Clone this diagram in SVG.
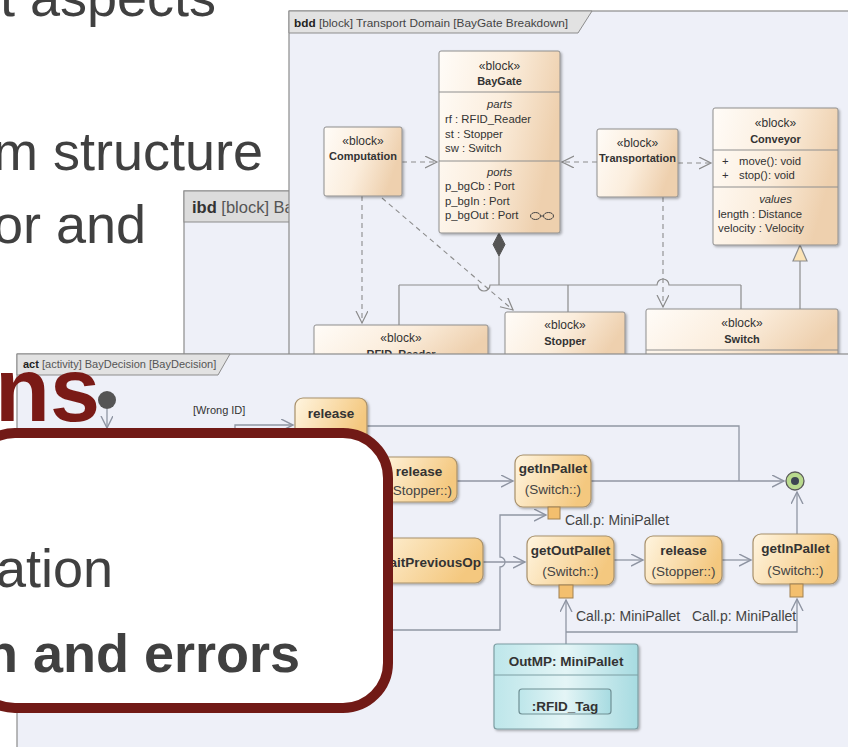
<svg xmlns="http://www.w3.org/2000/svg" width="848" height="747" viewBox="0 0 848 747">
<defs>
<linearGradient id="gBlock" x1="0" y1="0" x2="1" y2="0.3">
<stop offset="0" stop-color="#fffcf8"/>
<stop offset="0.55" stop-color="#fbeddc"/>
<stop offset="1" stop-color="#eed0ae"/>
</linearGradient>
<linearGradient id="gAct" x1="0" y1="0" x2="1" y2="0.3">
<stop offset="0" stop-color="#fff5e0"/>
<stop offset="1" stop-color="#f4c87f"/>
</linearGradient>
<linearGradient id="gObj" x1="0" y1="0" x2="1" y2="0">
<stop offset="0" stop-color="#bde6ea"/>
<stop offset="0.5" stop-color="#e4f5f6"/>
<stop offset="1" stop-color="#a7dbe1"/>
</linearGradient>
<filter id="sh" x="-10%" y="-10%" width="130%" height="130%">
<feDropShadow dx="1.5" dy="1.5" stdDeviation="1" flood-color="#000" flood-opacity="0.3"/>
</filter>
<marker id="dep" markerWidth="14" markerHeight="14" refX="12" refY="6" orient="auto" markerUnits="userSpaceOnUse">
<path d="M0,0 L12,6 L0,12" fill="none" stroke="#8a8a8a" stroke-width="1.2" stroke-dasharray="none"/>
</marker>
<marker id="ar" markerWidth="14" markerHeight="14" refX="12" refY="6" orient="auto" markerUnits="userSpaceOnUse">
<path d="M0,0 L12,6 L0,12" fill="none" stroke="#8e94a2" stroke-width="1.4"/>
</marker>
<style>
.t{font-family:"Liberation Sans",Arial,sans-serif;fill:#333}
.big{font-family:"Liberation Sans",Arial,sans-serif;fill:#404040;font-size:54px}
.fr{fill:#eef0f8;stroke:#8c8c8c;stroke-width:1.2}
.tab{fill:#e2e2e2;stroke:#8c8c8c;stroke-width:1}
.blk{fill:url(#gBlock);stroke:#8e8e8e;stroke-width:1;filter:url(#sh)}
.dv{stroke:#8e8e8e;stroke-width:1}
.dash{fill:none;stroke:#8c8c8c;stroke-width:1.1;stroke-dasharray:5 4}
.ln{fill:none;stroke:#8c8c8c;stroke-width:1.2}
.act{fill:url(#gAct);stroke:#a8916c;stroke-width:1.2;filter:url(#sh)}
.pin{fill:#f3bf6e;stroke:#a08050;stroke-width:1}
.aln{fill:none;stroke:#9096a3;stroke-width:1.3}
.st{font-size:12px;text-anchor:middle}
.nm{font-size:11px;font-weight:bold;text-anchor:middle}
.at{font-size:11.3px}
.it{font-size:11.3px;font-style:italic;text-anchor:middle}
.an{font-size:13.5px;font-weight:bold;text-anchor:middle}
.ar{font-size:13.5px;text-anchor:middle;fill:#444}
.lb{font-size:14px;fill:#444}
</style>
</defs>
<rect width="848" height="747" fill="#ffffff"/>

<g id="slide-text">
<text class="big" x="216" y="16" text-anchor="end">t aspects</text>
<text class="big" x="263" y="170" text-anchor="end">m structure</text>
<text class="big" x="146" y="243" text-anchor="end">or and</text>
</g>

<g id="ibd">
<rect class="fr" x="184" y="191" width="200" height="170" fill="#f6f6f9"/>
<rect x="184" y="191" width="200" height="31" fill="#dcdcdc" stroke="#8c8c8c"/>
<text class="t" x="192" y="213" font-size="16.5"><tspan font-weight="bold">ibd</tspan><tspan fill="#555"> [block] Ba</tspan></text>
</g>

<g id="bdd-frame">
<rect class="fr" x="289" y="11" width="570" height="350"/>
<path class="tab" d="M289,11 H592 L578,33 H289 Z"/>
<text class="t" x="294" y="27" font-size="11.8"><tspan font-weight="bold" fill="#222">bdd</tspan><tspan fill="#444">  [block] Transport Domain [BayGate Breakdown]</tspan></text>
</g>

<g id="bdd-connectors">
<path class="dash" d="M402,162 H437" marker-end="url(#dep)"/>
<path class="dash" d="M597,162 H562" marker-end="url(#dep)"/>
<path class="dash" d="M678,163 H711" marker-end="url(#dep)"/>
<path class="dash" d="M362,196 V323" marker-end="url(#dep)"/>
<path class="dash" d="M382,198 L513,310" marker-end="url(#dep)"/>
<path class="dash" d="M663,197 V307" marker-end="url(#dep)"/>
<path class="ln" d="M399,285 H478 A6,6 0 0 0 490,285 H657 A6,6 0 0 1 669,285 H741"/>
<path class="ln" d="M499,256 V285"/>
<path class="ln" d="M399,285 V325 M568,285 V312 M741,285 V309"/>
<polygon points="499,233 505,244.5 499,256 493,244.5" fill="#555" stroke="#555"/>
<path class="ln" d="M800,309 V261"/>
<polygon points="800,245 807,261 793,261" fill="#fbe3b6" stroke="#8c8c8c" stroke-width="1.2"/>
</g>

<g id="BayGate">
<rect class="blk" x="439" y="51" width="121" height="182" rx="2"/>
<text class="t st" x="499.5" y="70">«block»</text>
<text class="t nm" x="499.5" y="85">BayGate</text>
<line class="dv" x1="439" y1="92" x2="560" y2="92"/>
<text class="t it" x="499.5" y="108">parts</text>
<text class="t at" x="445" y="123">rf : RFID_Reader</text>
<text class="t at" x="445" y="138">st : Stopper</text>
<text class="t at" x="445" y="152">sw : Switch</text>
<line class="dv" x1="439" y1="161" x2="560" y2="161"/>
<text class="t it" x="499.5" y="176">ports</text>
<text class="t at" x="445" y="190">p_bgCb : Port</text>
<text class="t at" x="445" y="205">p_bgIn : Port</text>
<text class="t at" x="445" y="219">p_bgOut : Port</text>
<ellipse cx="535.5" cy="216" rx="5" ry="3.5" fill="none" stroke="#444" stroke-width="1"/>
<ellipse cx="548.5" cy="216" rx="5" ry="3.5" fill="none" stroke="#444" stroke-width="1"/>
<line x1="540.5" y1="216" x2="543.5" y2="216" stroke="#444"/>
</g>

<g id="Computation">
<rect class="blk" x="324" y="127" width="78" height="69" rx="2"/>
<text class="t st" x="363" y="145">«block»</text>
<text class="t nm" x="363" y="160">Computation</text>
</g>

<g id="Transportation">
<rect class="blk" x="597" y="129" width="81" height="68" rx="2"/>
<text class="t st" x="637.5" y="147">«block»</text>
<text class="t nm" x="637.5" y="162">Transportation</text>
</g>

<g id="Conveyor">
<rect class="blk" x="713" y="108" width="125" height="137" rx="2"/>
<text class="t st" x="775.5" y="127">«block»</text>
<text class="t nm" x="775.5" y="143">Conveyor</text>
<line class="dv" x1="713" y1="150" x2="838" y2="150"/>
<text class="t at" x="722" y="165" fill="#2a2ad0">+</text>
<text class="t at" x="739" y="165" fill="#2a2ad0">move(): void</text>
<text class="t at" x="722" y="179" fill="#2a2ad0">+</text>
<text class="t at" x="739" y="179" fill="#2a2ad0">stop(): void</text>
<line class="dv" x1="713" y1="187" x2="838" y2="187"/>
<text class="t it" x="775.5" y="203">values</text>
<text class="t at" x="718" y="218">length : Distance</text>
<text class="t at" x="718" y="232">velocity : Velocity</text>
</g>

<g id="RFID_Reader">
<rect class="blk" x="314" y="325" width="174" height="40" rx="2"/>
<text class="t st" x="401" y="342">«block»</text>
<text class="t nm" x="401" y="358">RFID_Reader</text>
</g>

<g id="Stopper">
<rect class="blk" x="505" y="312" width="120" height="50" rx="2"/>
<text class="t st" x="565" y="329">«block»</text>
<text class="t nm" x="565" y="345">Stopper</text>
</g>

<g id="Switch">
<rect class="blk" x="646" y="309" width="192" height="52" rx="2"/>
<text class="t st" x="742" y="327">«block»</text>
<text class="t nm" x="742" y="343">Switch</text>
<line class="dv" x1="646" y1="350" x2="838" y2="350"/>
</g>

<g id="act-frame">
<rect class="fr" x="17" y="354" width="850" height="410"/>
<path class="tab" d="M17,354 H230 L218,375 H17 Z"/>
<text class="t" x="23" y="368" font-size="11"><tspan font-weight="bold" fill="#222">act</tspan><tspan fill="#555"> [activity] BayDecision [BayDecision]</tspan></text>
</g>

<g id="act-connectors">
<path class="aln" d="M107,409 V428" marker-end="url(#ar)"/>
<path class="aln" d="M235,440 V425 H293" marker-end="url(#ar)"/>
<path class="aln" d="M367,426 H739 V481"/>
<path class="aln" d="M457,481 H513" marker-end="url(#ar)"/>
<path class="aln" d="M591,481 H784" marker-end="url(#ar)"/>
<path class="aln" d="M388,630 H500 V567 A5,5 0 0 0 500,557 V515 H546" marker-end="url(#ar)"/>
<path class="aln" d="M483,562 H525" marker-end="url(#ar)"/>
<path class="aln" d="M614,560 H643" marker-end="url(#ar)"/>
<path class="aln" d="M722,560 H751" marker-end="url(#ar)"/>
<path class="aln" d="M797,534 V492" marker-end="url(#ar)"/>
<path class="aln" d="M566,644 V600" marker-end="url(#ar)"/>
<path class="aln" d="M566,632 H797 V599" marker-end="url(#ar)"/>
<text class="t" x="193" y="414" font-size="11" fill="#555">[Wrong ID]</text>
<text class="t lb" x="565" y="525">Call.p: MiniPallet</text>
<text class="t lb" x="576" y="621">Call.p: MiniPallet</text>
<text class="t lb" x="692" y="621">Call.p: MiniPallet</text>
</g>

<g id="initial">
<circle cx="107" cy="400" r="9" fill="#555"/>
</g>

<g id="final">
<circle cx="795" cy="481" r="9" fill="#b9da8e" stroke="#5a5a5a" stroke-width="1.3"/>
<circle cx="795" cy="481" r="4" fill="#3d4552"/>
</g>

<g id="release1">
<rect class="act" x="295" y="398" width="72" height="45" rx="8"/>
<text class="t an" x="331" y="418">release</text>
</g>

<g id="release2">
<rect class="act" x="378" y="457" width="79" height="45" rx="8"/>
<text class="t an" x="419" y="476">release</text>
<text class="t ar" x="452" y="495" style="text-anchor:end">Stopper::)</text>
</g>

<g id="getInPallet1">
<rect class="act" x="515" y="455" width="76" height="52" rx="8"/>
<text class="t an" x="553" y="473">getInPallet</text>
<text class="t ar" x="553" y="494">(Switch::)</text>
<rect class="pin" x="548" y="507" width="12" height="12"/>
</g>

<g id="waitPreviousOp">
<rect class="act" x="360" y="538" width="123" height="45" rx="8"/>
<text class="t an" x="481" y="567" style="text-anchor:end">aitPreviousOp</text>
</g>

<g id="getOutPallet">
<rect class="act" x="527" y="536" width="87" height="49" rx="8"/>
<text class="t an" x="570.5" y="555">getOutPallet</text>
<text class="t ar" x="570.5" y="576">(Switch::)</text>
<rect class="pin" x="559" y="585" width="14" height="13"/>
</g>

<g id="release3">
<rect class="act" x="645" y="536" width="77" height="48" rx="8"/>
<text class="t an" x="683.5" y="555">release</text>
<text class="t ar" x="683.5" y="576">(Stopper::)</text>
</g>

<g id="getInPallet2">
<rect class="act" x="753" y="534" width="85" height="50" rx="8"/>
<text class="t an" x="795.5" y="553">getInPallet</text>
<text class="t ar" x="795.5" y="575">(Switch::)</text>
<rect class="pin" x="790" y="584" width="13" height="13"/>
</g>

<g id="OutMP">
<rect x="494" y="644" width="144" height="85" rx="3" fill="url(#gObj)" stroke="#7d9ea3" stroke-width="1.2" filter="url(#sh)"/>
<line x1="494" y1="675" x2="638" y2="675" stroke="#7d9ea3"/>
<text class="t an" x="566" y="666">OutMP: MiniPallet</text>
<rect x="519" y="689" width="92" height="25" rx="3" fill="url(#gObj)" stroke="#6f8f94" stroke-width="1.2"/>
<text class="t an" x="565" y="711" font-size="13">:RFID_Tag</text>
</g>

<g id="title">
<text x="100" y="421" text-anchor="end" font-family="Liberation Sans, Arial, sans-serif" font-weight="bold" font-size="90" fill="#7a1a16">ns</text>
</g>
<g id="callout">
<rect x="-30" y="433" width="418" height="275" rx="45" fill="#ffffff" stroke="#711a16" stroke-width="10"/>
<text class="big" x="113" y="587" text-anchor="end">ation</text>
<text class="big" x="300" y="672" text-anchor="end" font-weight="bold">n and errors</text>
</g>
</svg>
